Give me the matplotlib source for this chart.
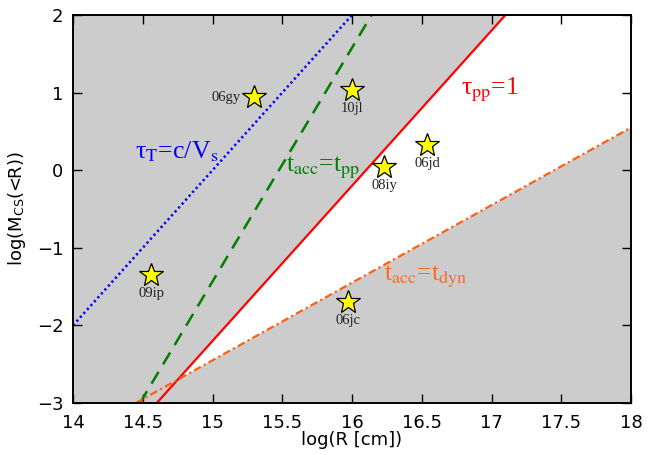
import matplotlib
matplotlib.use("Agg")
import matplotlib.pyplot as plt

plt.rcParams["mathtext.fontset"] = "stix"

# boundary lines, given by their end points in (log R, log M)
blue_x = [14.0, 16.0]
blue_y = [-2.0, 2.0]
green_x = [14.48, 16.14]
green_y = [-3.0, 2.0]
red_x = [14.6, 17.1]
red_y = [-3.0, 2.0]
orange_x = [14.45, 18.0]
orange_y = [-3.0, 0.55]

# allowed region between tau_pp=1 and t_acc=t_dyn
white_x = [14.75, 17.1, 18.0, 18.0]
white_y = [-2.7, 2.0, 2.0, 0.55]

# supernovae
sn_names = ["06gy", "10jl", "08iy", "06jd", "09ip", "06jc"]
sn_x = [15.30, 16.00, 16.23, 16.54, 14.56, 15.97]
sn_y = [0.94, 1.03, 0.04, 0.32, -1.35, -1.70]

xticks = [14, 14.5, 15, 15.5, 16, 16.5, 17, 17.5, 18]
yticks = [-3, -2, -1, 0, 1, 2]

fig = plt.figure(figsize=(6.48, 4.55), dpi=100)
ax = fig.add_axes([0.1127, 0.1143, 0.8611, 0.8527])
ax.set_facecolor("#cccccc")
ax.fill(white_x, white_y, color="white", lw=0, zorder=1)

ax.plot(blue_x, blue_y, color="#0000ff", lw=1.8, ls=(0, (0.9, 1.2)), zorder=3)
ax.plot(green_x, green_y, color="#007f00", lw=1.8, ls=(0, (5.5, 3.5)), zorder=3)
ax.plot(red_x, red_y, color="#ff0000", lw=1.6, zorder=3)
ax.plot(orange_x, orange_y, color="#ff5f10", lw=1.6,
        ls=(0, (3.5, 1.5, 1.0, 1.5)), zorder=3)

ax.plot(sn_x, sn_y, ls="none", marker="*", ms=18, mfc="#ffff00",
        mec="black", mew=0.9, zorder=4)
for name, x, y in zip(sn_names, sn_x, sn_y):
    if name == "06gy":
        ax.text(x - 0.1, y, name, ha="right", va="center", fontsize=10.5,
                family="Liberation Serif", color="#222222", zorder=5)
    else:
        ax.text(x, y - 0.15, name, ha="center", va="top", fontsize=10.5,
                family="Liberation Serif", color="#222222", zorder=5)

serif = "Liberation Serif"
ax.text(14.74, 0.24, "τ$_\\mathrm{T}$=c/V$_\\mathrm{s}$", color="#0000ff",
        fontsize=18.5, family=serif, ha="center", va="center", zorder=5)
ax.text(15.79, 0.03, "t$_\\mathrm{acc}$=t$_\\mathrm{pp}$", color="#007f00",
        fontsize=18.5, family=serif, ha="center", va="center", zorder=5)
ax.text(16.99, 1.04, "τ$_\\mathrm{pp}$=1", color="#ff0000",
        fontsize=18.5, family=serif, ha="center", va="center", zorder=5)
ax.text(16.53, -1.38, "t$_\\mathrm{acc}$=t$_\\mathrm{dyn}$", color="#ff6a20",
        fontsize=18.5, family=serif, ha="center", va="center", zorder=5)

ax.set_xlim(14, 18)
ax.set_ylim(-3, 2)
ax.set_xticks(xticks)
ax.set_xticklabels([f"{t:g}" for t in xticks])
ax.set_yticks(yticks)
ax.tick_params(direction="in", length=6.5, width=1.0, labelsize=13,
               top=True, right=True, pad=7)
ax.tick_params(axis="x", pad=8)
for side in ax.spines.values():
    side.set_linewidth(1.4)
    side.set_zorder(6)

ax.set_xlabel("log(R [cm])", fontsize=13, labelpad=-1)
ax.set_ylabel("log(M$_{\\mathregular{CS}}$(<R))", fontsize=13, labelpad=6)

fig.savefig("out.png", dpi=100)
